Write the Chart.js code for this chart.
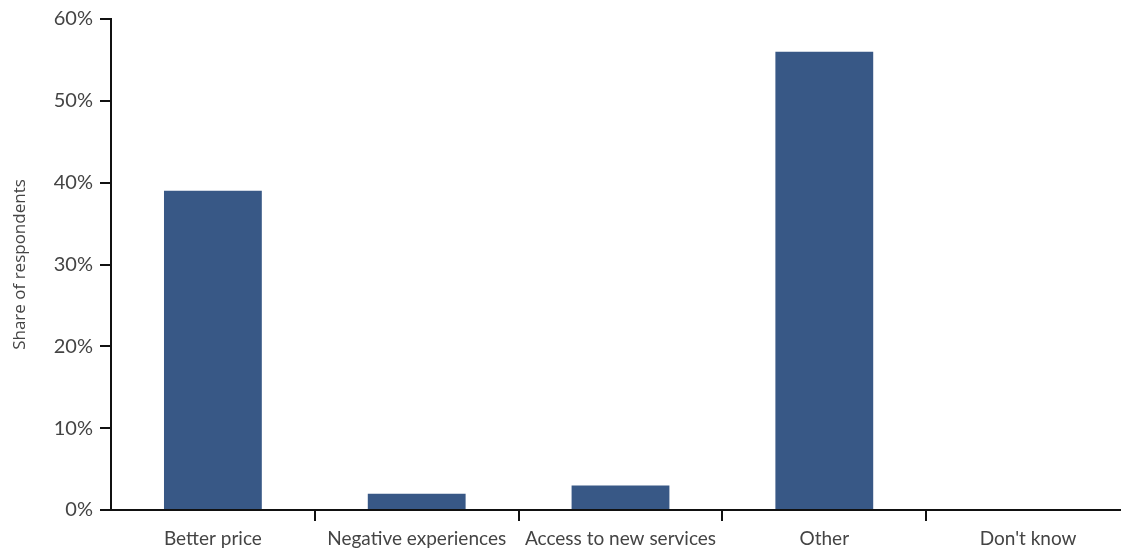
<!DOCTYPE html>
<html>
<head>
<meta charset="utf-8">
<script src="https://cdn.jsdelivr.net/npm/chart.js@4"></script>
<style>
  html, body { margin: 0; padding: 0; background: #fff; overflow: hidden; }
  #wrap { width: 1130px; height: 552px; }
</style>
</head>
<body>
<div id="wrap"><canvas id="myChart" width="1130" height="552"></canvas></div>
<script>
const categories = ["Better price", "Negative experiences", "Access to new services", "Other", "Don't know"];
const shares = [39, 2, 3, 56, 0];
const yTicks = [0, 10, 20, 30, 40, 50, 60];

const labelColor = "#444";
const barColor = "rgb(56, 88, 134)";

const data = {
  labels: categories,
  datasets: [
    {
      label: "Share of respondents",
      backgroundColor: barColor,
      borderWidth: 0,
      categoryPercentage: 1,
      barPercentage: 0.48,
      data: shares,
    },
  ],
};

const config = {
  type: "bar",
  data,
  options: {
    responsive: false,
    animation: false,
    layout: { padding: { top: 19, left: 0, right: 0, bottom: 0 } },
    plugins: { legend: { display: false }, tooltip: { enabled: false } },
    scales: {
      x: {
        offset: true,
        grid: {
          offset: true,
          drawOnChartArea: false,
          drawTicks: true,
          tickLength: 11,
          lineWidth: 2,
          color: (ctx) => (ctx.index === 0 ? "transparent" : "#111"),
        },
        border: { display: true, color: "#111", width: 2 },
        ticks: {
          color: labelColor,
          font: { family: "Lato", size: 19 },
          padding: 6,
          maxRotation: 0,
          autoSkip: false,
        },
        afterFit: (scale) => { scale.height = 42; },
      },
      y: {
        min: 0,
        max: 60,
        afterBuildTicks: (scale) => { scale.ticks = yTicks.map((v) => ({ value: v })); },
        grid: {
          drawOnChartArea: false,
          drawTicks: true,
          tickLength: 11,
          lineWidth: 2,
          color: "#111",
        },
        border: { display: true, color: "#111", width: 2 },
        ticks: {
          color: labelColor,
          font: { family: "Lato", size: 20 },
          padding: 7,
          callback: (v) => v + "%",
        },
        title: {
          display: true,
          text: "Share of respondents",
          color: labelColor,
          font: { family: "Open Sans", size: 17 },
          padding: { top: 10, bottom: 4 },
        },
        afterFit: (scale) => { scale.width = 111; },
      },
    },
  },
};

var myChart = new Chart(document.getElementById("myChart"), config);
</script>
</body>
</html>
